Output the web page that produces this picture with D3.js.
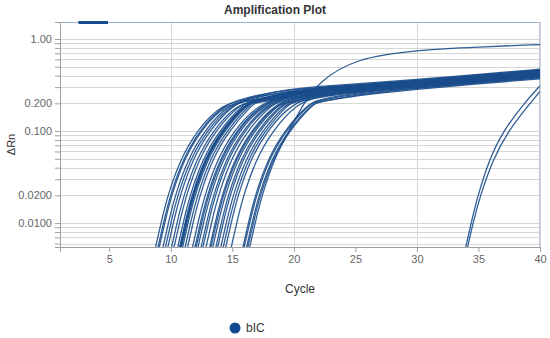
<!DOCTYPE html>
<html>
<head>
<meta charset="utf-8">
<script src="https://cdn.jsdelivr.net/npm/d3@7"></script>
<style>
  body { margin: 0; background: #fff; }
  text { font-family: "Liberation Sans", Arial, sans-serif; }
</style>
</head>
<body>
<div id="chart"></div>
<script>
// dRn levels, and the cycle at which each well crosses them
const levels = [0.005, 0.01, 0.02, 0.05, 0.1, 0.2];
const riseCycles = [
  [8.7, 9.2, 9.75, 10.8, 12.1, 14.1],
  [8.9, 9.4, 9.95, 11.0, 12.3, 14.3],
  [9.0, 9.5, 10.05, 11.1, 12.4, 14.4],
  [9.3, 9.8, 10.35, 11.4, 12.7, 14.7],
  [9.5, 10.0, 10.55, 11.6, 12.9, 14.9],
  [9.7, 10.2, 10.75, 11.8, 13.1, 15.1],
  [10.0, 10.5, 11.05, 12.1, 13.4, 15.4],
  [10.2, 10.7, 11.25, 12.3, 13.6, 15.6],
  [10.5, 11.0, 11.55, 12.6, 13.9, 15.9],
  [10.65, 11.15, 11.7, 12.75, 14.05, 16.05],
  [10.7, 11.2, 11.75, 12.8, 14.1, 16.1],
  [10.75, 11.25, 11.8, 12.85, 14.15, 16.15],
  [10.8, 11.3, 11.85, 12.9, 14.2, 16.2],
  [10.9, 11.4, 11.95, 13.0, 14.3, 16.3],
  [11.1, 11.6, 12.15, 13.2, 14.5, 16.5],
  [11.3, 11.8, 12.35, 13.4, 14.7, 16.7],
  [11.7, 12.2, 12.75, 13.8, 15.1, 17.1],
  [11.9, 12.4, 12.95, 14.0, 15.3, 17.3],
  [12.0, 12.5, 13.05, 14.1, 15.4, 17.4],
  [12.15, 12.65, 13.2, 14.25, 15.55, 17.55],
  [12.4, 12.9, 13.45, 14.5, 15.8, 17.8],
  [12.55, 13.05, 13.6, 14.65, 15.95, 17.95],
  [12.8, 13.3, 13.85, 14.9, 16.2, 18.2],
  [13.1, 13.6, 14.15, 15.2, 16.5, 18.5],
  [13.2, 13.7, 14.25, 15.3, 16.6, 18.6],
  [13.35, 13.85, 14.4, 15.45, 16.75, 18.75],
  [13.6, 14.1, 14.65, 15.7, 17.0, 19.0],
  [13.75, 14.25, 14.8, 15.85, 17.15, 19.15],
  [14.0, 14.5, 15.05, 16.1, 17.4, 19.4],
  [14.2, 14.7, 15.25, 16.3, 17.6, 19.6],
  [14.4, 14.9, 15.45, 16.5, 17.8, 19.8],
  [14.85, 15.35, 15.9, 16.95, 18.25, 20.25],
  [15.8, 16.3, 16.85, 17.9, 19.2, 21.2],
  [15.9, 16.4, 16.95, 18.0, 19.3, 21.3],
  [16.1, 16.6, 17.15, 18.2, 19.5, 21.5],
  [16.2, 16.7, 17.25, 18.3, 19.6, 21.6],
  [16.35, 16.85, 17.4, 18.4, 19.6, 20.8],
  [33.9, 34.4, 34.95, 35.9, 37.0, 38.7],
  [34.05, 34.55, 35.15, 36.2, 37.4, 39.2]
];

// dRn of each well at later cycles (null = not yet there / below view)
const tailCycles = [17, 20, 22, 25, 30, 35, 40];
const tailValues = [
  [0.236, 0.273, 0.285, 0.304, 0.339, 0.387, 0.44],
  [0.247, 0.285, 0.298, 0.317, 0.354, 0.405, 0.46],
  [0.218, 0.258, 0.272, 0.29, 0.323, 0.37, 0.42],
  [0.234, 0.276, 0.292, 0.31, 0.347, 0.396, 0.45],
  [0.224, 0.264, 0.279, 0.297, 0.331, 0.378, 0.43],
  [0.245, 0.288, 0.305, 0.324, 0.362, 0.414, 0.47],
  [0.205, 0.246, 0.266, 0.283, 0.316, 0.361, 0.41],
  [0.217, 0.265, 0.285, 0.304, 0.339, 0.387, 0.44],
  [0.221, 0.271, 0.292, 0.31, 0.347, 0.396, 0.45],
  [0.211, 0.259, 0.279, 0.297, 0.331, 0.378, 0.43],
  [0.206, 0.253, 0.272, 0.29, 0.323, 0.37, 0.42],
  [0.217, 0.265, 0.285, 0.304, 0.339, 0.387, 0.44],
  [0.221, 0.271, 0.292, 0.31, 0.347, 0.396, 0.45],
  [0.211, 0.259, 0.279, 0.297, 0.331, 0.378, 0.43],
  [0.208, 0.271, 0.295, 0.317, 0.354, 0.405, 0.46],
  [0.203, 0.236, 0.256, 0.276, 0.308, 0.352, 0.40],
  [null, 0.259, 0.282, 0.304, 0.339, 0.387, 0.44],
  [null, 0.247, 0.269, 0.29, 0.323, 0.37, 0.42],
  [null, 0.257, 0.283, 0.31, 0.347, 0.396, 0.45],
  [null, 0.234, 0.258, 0.283, 0.316, 0.361, 0.41],
  [null, 0.245, 0.27, 0.297, 0.331, 0.378, 0.43],
  [null, 0.228, 0.251, 0.276, 0.308, 0.352, 0.40],
  [null, 0.251, 0.276, 0.304, 0.339, 0.387, 0.44],
  [null, 0.226, 0.258, 0.29, 0.323, 0.37, 0.42],
  [null, 0.21, 0.24, 0.269, 0.30, 0.343, 0.39],
  [null, 0.232, 0.265, 0.297, 0.331, 0.378, 0.43],
  [null, 0.221, 0.252, 0.283, 0.316, 0.361, 0.41],
  [null, 0.216, 0.246, 0.276, 0.308, 0.352, 0.40],
  [null, 0.208, 0.25, 0.287, 0.323, 0.37, 0.42],
  [null, 0.203, 0.233, 0.266, 0.30, 0.343, 0.39],
  [null, null, 0.245, 0.28, 0.316, 0.361, 0.41],
  [null, null, 0.238, 0.273, 0.308, 0.352, 0.40],
  [null, null, 0.214, 0.254, 0.293, 0.334, 0.38],
  [null, null, 0.22, 0.261, 0.30, 0.343, 0.39],
  [null, null, 0.207, 0.242, 0.285, 0.326, 0.37],
  [null, null, 0.205, 0.249, 0.293, 0.334, 0.38],
  [null, null, 0.34, 0.62, 0.76, 0.82, 0.87],
  [null, null, null, null, null, null, 0.31],
  [null, null, null, null, null, null, 0.27]
];

const xTicks = [5, 10, 15, 20, 25, 30, 35, 40];
const xGrid = [10, 20, 30, 40];
const yTicks = [1, 0.2, 0.1, 0.02, 0.01];
const yTickLabels = ['1.00', '0.200', '0.100', '0.0200', '0.0100'];
const thresholdBar = [2.5, 4.9];
const legendLabel = 'bIC';

const width = 550;
const height = 338;
const margin = { top: 22, right: 10, bottom: 91, left: 60 };
const lineColor = '#1a4c8b';

const x = d3.scaleLinear().domain([1, 40]).range([margin.left, width - margin.right]);
const y = d3.scaleLog().domain([0.0055, 1.53]).range([height - margin.bottom, margin.top]);

// every 1..9 x 10^k inside the view
const yGrid = [];
[0.001, 0.01, 0.1, 1].forEach(base => {
  d3.range(1, 10).forEach(k => {
    const v = base * k;
    if (v >= y.domain()[0] && v <= y.domain()[1]) yGrid.push(v);
  });
});

const svg = d3.select('#chart')
  .append('svg')
  .attr('width', width)
  .attr('height', height);

svg.append('text')
  .attr('x', width / 2)
  .attr('y', 14)
  .attr('text-anchor', 'middle')
  .style('font-size', '12px')
  .style('font-weight', 'bold')
  .attr('fill', '#333')
  .text('Amplification Plot');

svg.append('clipPath')
  .attr('id', 'plot-clip')
  .append('rect')
  .attr('x', x.range()[0])
  .attr('y', y.range()[1])
  .attr('width', x.range()[1] - x.range()[0])
  .attr('height', y.range()[0] - y.range()[1]);

// grid
svg.append('g')
  .selectAll('line')
  .data(yGrid)
  .enter()
  .append('line')
  .attr('x1', x.range()[0])
  .attr('x2', x.range()[1])
  .attr('y1', d => Math.round(y(d)) + 0.5)
  .attr('y2', d => Math.round(y(d)) + 0.5)
  .attr('stroke', '#d6d6d6');

svg.append('g')
  .selectAll('line')
  .data(xGrid)
  .enter()
  .append('line')
  .attr('x1', d => Math.round(x(d)) + 0.5)
  .attr('x2', d => Math.round(x(d)) + 0.5)
  .attr('y1', y.range()[1])
  .attr('y2', y.range()[0])
  .attr('stroke', '#d6d6d6');

// frame top / right
svg.append('line')
  .attr('x1', x.range()[0]).attr('x2', x.range()[1])
  .attr('y1', y.range()[1] + 0.5).attr('y2', y.range()[1] + 0.5)
  .attr('stroke', '#9fb3cf');
svg.append('line')
  .attr('x1', x.range()[1] - 0.5).attr('x2', x.range()[1] - 0.5)
  .attr('y1', y.range()[1]).attr('y2', y.range()[0])
  .attr('stroke', '#b7c5d9');

// curves
const wells = riseCycles.map((rise, i) => {
  const pts = rise.map((c, j) => [c, levels[j]]);
  tailCycles.forEach((c, j) => {
    const v = tailValues[i][j];
    if (v !== null) pts.push([c, v]);
  });
  return pts.sort((a, b) => a[0] - b[0]);
});

const line = d3.line()
  .x(d => x(d[0]))
  .y(d => y(d[1]))
  .curve(d3.curveBasis);

svg.append('g')
  .attr('clip-path', 'url(#plot-clip)')
  .selectAll('path')
  .data(wells)
  .enter()
  .append('path')
  .attr('d', line)
  .attr('fill', 'none')
  .attr('stroke', lineColor)
  .attr('stroke-opacity', 0.9)
  .attr('stroke-width', 1.3);

// axes
const yAxis = svg.append('g')
  .attr('transform', `translate(${x.range()[0]},0)`)
  .call(d3.axisLeft(y).tickValues(yGrid).tickSize(5).tickFormat(d => {
    const i = yTicks.findIndex(t => Math.abs(t - d) < d * 1e-6);
    return i >= 0 ? yTickLabels[i] : '';
  }));

const xAxis = svg.append('g')
  .attr('transform', `translate(0,${y.range()[0]})`)
  .call(d3.axisBottom(x).tickValues(xTicks).tickSize(5));

[xAxis, yAxis].forEach(ax => {
  ax.select('.domain').attr('stroke', '#a0a0a0');
  ax.selectAll('.tick line').attr('stroke', '#a0a0a0');
  ax.selectAll('.tick text')
    .attr('fill', '#666')
    .style('font-size', '11px')
    .style('font-family', '"Liberation Sans", Arial, sans-serif');
});

svg.append('rect')
  .attr('x', x(thresholdBar[0]))
  .attr('y', y.range()[1] - 1)
  .attr('width', x(thresholdBar[1]) - x(thresholdBar[0]))
  .attr('height', 3)
  .attr('fill', '#164a8a');

svg.append('text')
  .attr('x', (x.range()[0] + x.range()[1]) / 2)
  .attr('y', 293)
  .attr('text-anchor', 'middle')
  .style('font-size', '12px')
  .attr('fill', '#333')
  .text('Cycle');

svg.append('text')
  .attr('transform', `translate(15,${(y.range()[0] + y.range()[1]) / 2 + 10}) rotate(-90)`)
  .attr('text-anchor', 'middle')
  .style('font-size', '11px')
  .attr('fill', '#333')
  .text('\u0394Rn');

// legend
const legend = svg.append('g').attr('transform', 'translate(235,328)');
legend.append('circle')
  .attr('r', 5.5)
  .attr('fill', '#0f4a8e');
legend.append('text')
  .attr('x', 11)
  .attr('y', 4)
  .style('font-size', '12px')
  .attr('fill', '#333')
  .text(legendLabel);
</script>
</body>
</html>
